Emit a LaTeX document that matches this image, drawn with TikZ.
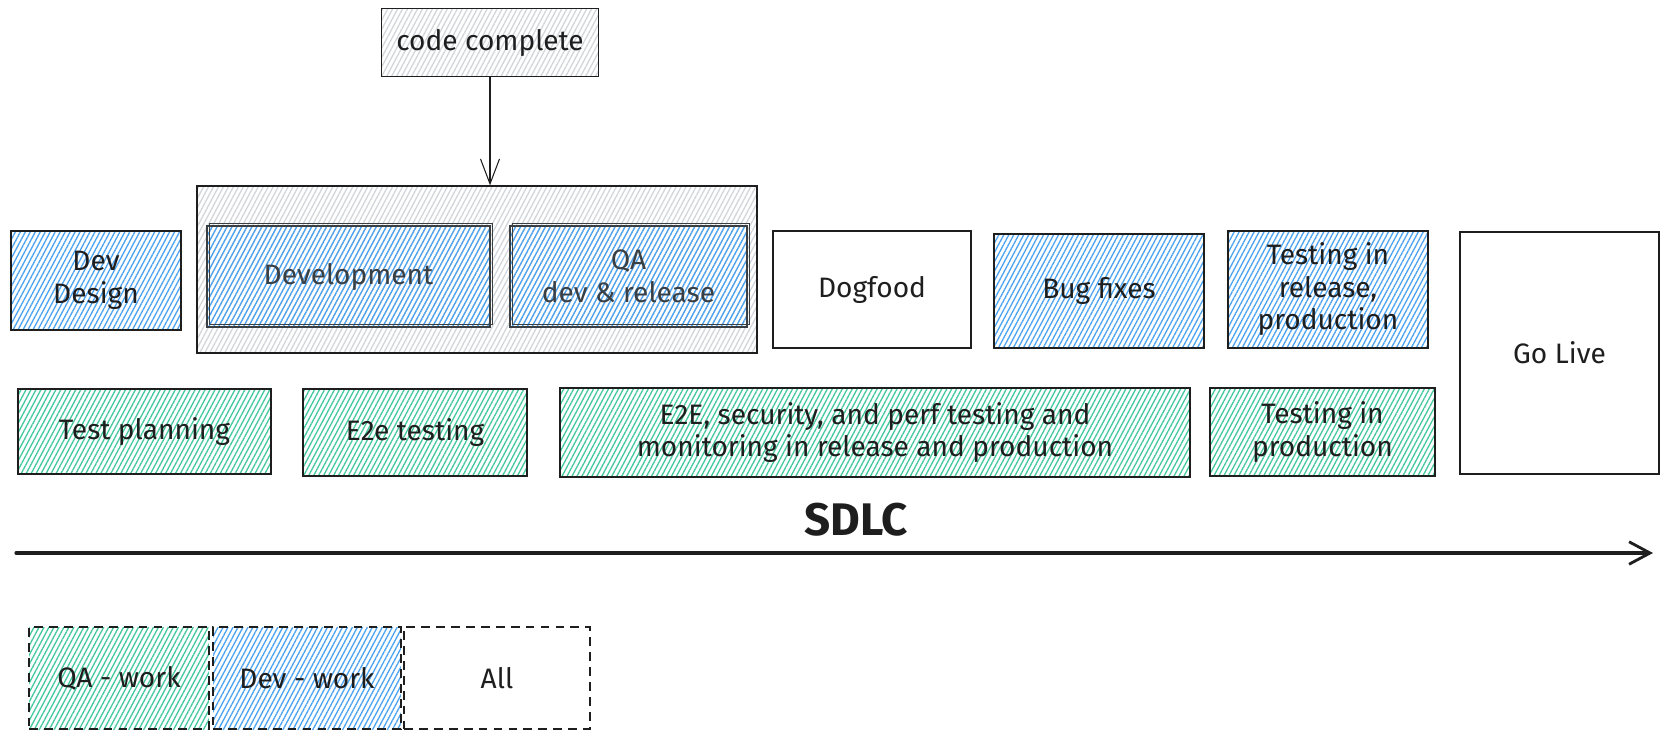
\documentclass[tikz,border=0pt]{standalone}
\usepackage{fontspec}
\setmainfont{Fira Sans}
\usetikzlibrary{arrows.meta,patterns.meta}
\definecolor{ink}{HTML}{1E1E1E}
\definecolor{devblue}{HTML}{4DA3F0}
\definecolor{qagreen}{HTML}{45C89E}
\definecolor{grpgrey}{HTML}{D2D6DA}
\definecolor{edgegrey}{HTML}{3A3F44}
\begin{document}
\begin{tikzpicture}[x=0.02cm, y=-0.02cm,
  every node/.style = {align=center, text=ink,
    font=\fontsize{16}{18.5}\selectfont},
  box/.style = {shape=rectangle, draw=ink, line width=0.7pt, inner sep=2pt},
  hatch/.style = {pattern={Lines[angle=62, distance=2.5pt, line width=0.75pt]},
    pattern color=#1},
  devbox/.style = {box, hatch=devblue},
  qabox/.style = {box, hatch=qagreen},
  allbox/.style = {box, fill=white},
  innerbox/.style = {devbox, draw=edgegrey, text=edgegrey,
    postaction={draw=edgegrey, line width=0.5pt,
      transform canvas={shift={(1.3pt,1.3pt)}}}},
  keybox/.style = {dash pattern=on 5pt off 3.5pt},
  flow/.style = {draw=ink, line width=0.6pt,
    -{Straight Barb[length=0.5cm, width=0.38cm]}},
  timeline/.style = {draw=ink, line width=1.8pt, line cap=round,
    -{Straight Barb[length=0.42cm, width=0.45cm, line width=1.6pt]}}]
 \useasboundingbox (0,0) rectangle (1667,738);
 % milestone
 \node[box, hatch=grpgrey, minimum width=4.34cm, minimum height=1.36cm]
   (code) at (490,42.5) {code complete};
 % top row
 \node[box, hatch=grpgrey, minimum width=11.2cm, minimum height=3.34cm]
   (grp) at (477,269.5) {};
 \node[devbox, minimum width=3.4cm, minimum height=1.98cm]
   (devdesign) at (96,280.5) {Dev\\Design};
 \node[innerbox, minimum width=5.66cm, minimum height=2.02cm]
   (devel) at (348.5,276.5) {Development};
 \node[innerbox, minimum width=4.74cm, minimum height=2.02cm]
   (qadev) at (628.5,276.5) {QA\\dev \& release};
 \node[allbox, minimum width=3.96cm, minimum height=2.34cm]
   (dogfood) at (872,289.5) {Dogfood};
 \node[devbox, minimum width=4.2cm, minimum height=2.28cm]
   (bugfix) at (1099,291) {Bug fixes};
 \node[devbox, minimum width=4.0cm, minimum height=2.34cm]
   (testrel) at (1328,289.5) {Testing in\\release,\\production};
 \node[allbox, minimum width=3.98cm, minimum height=4.84cm]
   (golive) at (1559.5,353) {Go Live};
 % bottom row
 \node[qabox, minimum width=5.06cm, minimum height=1.7cm]
   (testplan) at (144.5,431.5) {Test planning};
 \node[qabox, minimum width=4.48cm, minimum height=1.74cm]
   (e2e) at (415,432.5) {E2e testing};
 \node[qabox, minimum width=12.6cm, minimum height=1.78cm]
   (e2esec) at (875,432.5)
   {E2E, security, and perf testing and\\monitoring in release and production};
 \node[qabox, minimum width=4.5cm, minimum height=1.76cm]
   (testprod) at (1322.5,432) {Testing in\\production};
 \draw[flow] (code.south) -- (code.south |- grp.north);
 % timeline
 \node[font=\fontsize{26}{30}\selectfont\bfseries] (sdlc) at (856,520) {SDLC};
 \coordinate (tstart) at (16,553);
 \coordinate (tend) at (1653,553);
 \draw[timeline] (tstart) -- (tend);
 % legend
 \node[qabox, keybox, minimum width=3.6cm, minimum height=2.04cm]
   (qawork) at (119,678) {QA - work};
 \node[devbox, keybox, minimum width=3.76cm, minimum height=2.04cm]
   (devwork) at (307,678) {Dev - work};
 \node[allbox, keybox, minimum width=3.72cm, minimum height=2.04cm]
   (allwork) at (497,678) {All};
\end{tikzpicture}
\end{document}
